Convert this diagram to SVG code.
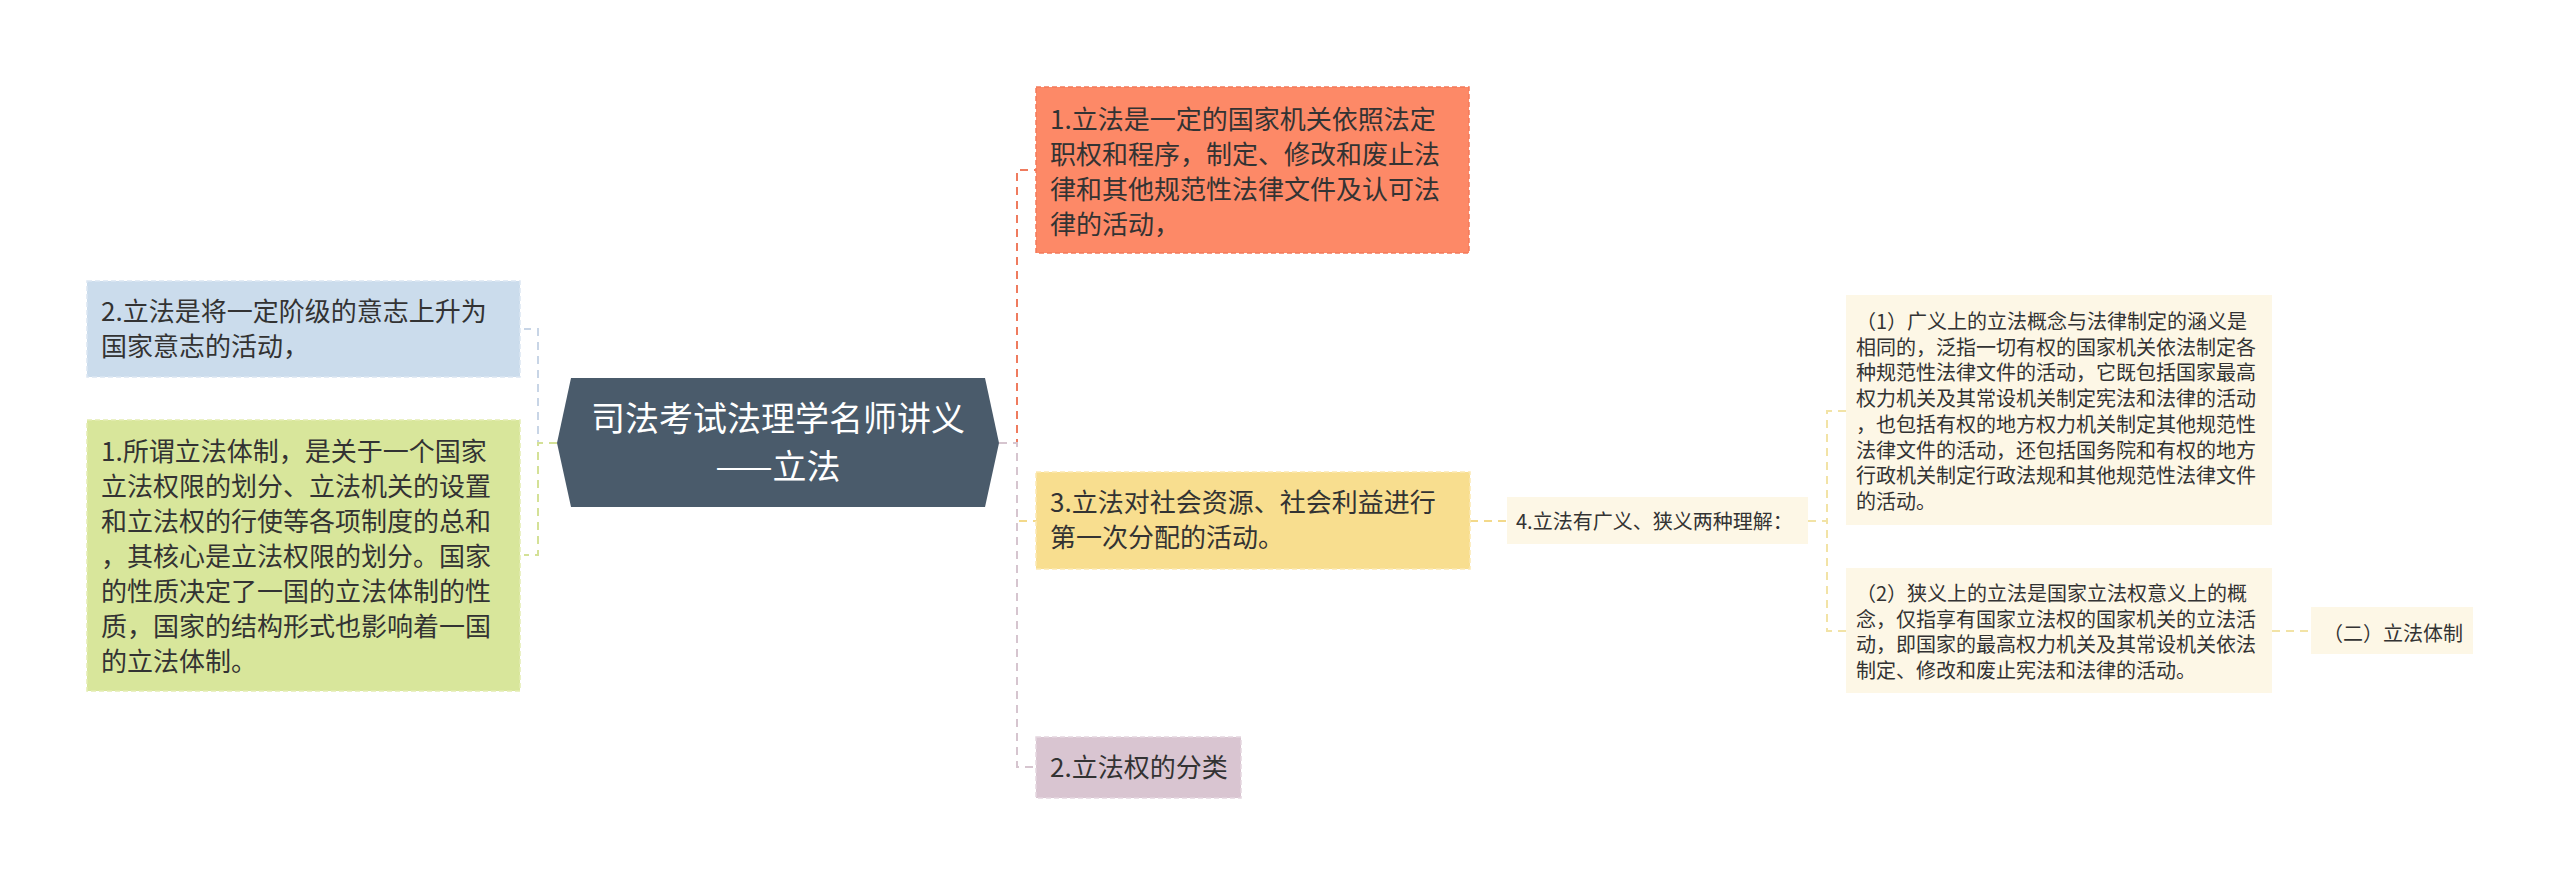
<svg xmlns="http://www.w3.org/2000/svg" width="2560" height="885" viewBox="0 0 2560 885">
<style>
.t{font-family:"Microsoft YaHei","Noto Sans CJK SC","Noto Sans",sans-serif;fill:#333333}
.t26{font-size:26px}
.t20{font-size:20px}
.title{font-family:"Microsoft YaHei","Noto Sans CJK SC","Noto Sans",sans-serif;font-size:34px;fill:#ffffff;text-anchor:middle}
.box{stroke-width:1.5;stroke-dasharray:5 3}
.c{fill:none;stroke-width:2;stroke-dasharray:8 6}
</style>
<rect width="2560" height="885" fill="#ffffff"/>
<g id="connectors">
<path class="c" stroke="#c8d5e6" d="M557,443 H538 V329 H524"/>
<path class="c" stroke="#d4e197" d="M557,443 H538 V555 H524"/>
<path class="c" stroke="#ef7b5e" d="M999,443 H1017 V170 H1036"/>
<path class="c" stroke="#f3d98a" d="M999,443 H1017 V521 H1036"/>
<path class="c" stroke="#d6c5cf" d="M999,443 H1017 V767 H1036"/>
<path class="c" stroke="#f3d98a" d="M1470,521 H1507"/>
<path class="c" stroke="#f2e3a6" d="M1808,521 H1827 V411 H1846"/>
<path class="c" stroke="#f2e3a6" d="M1808,521 H1827 V631 H1846"/>
<path class="c" stroke="#f2e3a6" d="M2272,631 H2311"/>
</g>
<g id="root">
<polygon points="557,443 571,378 985,378 999,443 985,507 571,507" fill="#4a5b6b"/>
<text class="title" x="778" y="431">司法考试法理学名师讲义</text>
<text class="title" x="778" y="479">——立法</text>
</g>
<g id="n-blue">
<rect class="box" x="87" y="281" width="433" height="96" fill="#cbdcec" stroke="#dbe6f2"/>
<text class="t t26" x="101" y="321">2.立法是将一定阶级的意志上升为</text>
<text class="t t26" x="101" y="356">国家意志的活动，</text>
</g>
<g id="n-green">
<rect class="box" x="87" y="420" width="433" height="271" fill="#d8e69b" stroke="#e3edb3"/>
<text class="t t26" x="101" y="461">1.所谓立法体制，是关于一个国家</text>
<text class="t t26" x="101" y="496">立法权限的划分、立法机关的设置</text>
<text class="t t26" x="101" y="531">和立法权的行使等各项制度的总和</text>
<text class="t t26" x="101" y="566">，其核心是立法权限的划分。国家</text>
<text class="t t26" x="101" y="601">的性质决定了一国的立法体制的性</text>
<text class="t t26" x="101" y="636">质，国家的结构形式也影响着一国</text>
<text class="t t26" x="101" y="671">的立法体制。</text>
</g>
<g id="n-orange">
<rect class="box" x="1036" y="87" width="433" height="166" fill="#fd8967" stroke="#f47a5a"/>
<text class="t t26" x="1050" y="129">1.立法是一定的国家机关依照法定</text>
<text class="t t26" x="1050" y="164">职权和程序，制定、修改和废止法</text>
<text class="t t26" x="1050" y="199">律和其他规范性法律文件及认可法</text>
<text class="t t26" x="1050" y="234">律的活动，</text>
</g>
<g id="n-yellow">
<rect class="box" x="1036" y="472" width="434" height="97" fill="#f8de8f" stroke="#fbe9b2"/>
<text class="t t26" x="1050" y="512">3.立法对社会资源、社会利益进行</text>
<text class="t t26" x="1050" y="547">第一次分配的活动。</text>
</g>
<g id="n-purple">
<rect class="box" x="1036" y="737" width="205" height="61" fill="#d9c5d1" stroke="#e5d6df"/>
<text class="t t26" x="1050" y="777">2.立法权的分类</text>
</g>
<g id="n-4">
<rect x="1507" y="497" width="301" height="47" fill="#fdf7e6"/>
<text class="t t20" x="1516" y="529">4.立法有广义、狭义两种理解：</text>
</g>
<g id="n-broad">
<rect x="1846" y="295" width="426" height="230" fill="#fdf7e6"/>
<text class="t t20" x="1856" y="329"> （1）广义上的立法概念与法律制定的涵义是</text>
<text class="t t20" x="1856" y="354.7">相同的，泛指一切有权的国家机关依法制定各</text>
<text class="t t20" x="1856" y="380.4">种规范性法律文件的活动，它既包括国家最高</text>
<text class="t t20" x="1856" y="406.1">权力机关及其常设机关制定宪法和法律的活动</text>
<text class="t t20" x="1856" y="431.8">，也包括有权的地方权力机关制定其他规范性</text>
<text class="t t20" x="1856" y="457.5">法律文件的活动，还包括国务院和有权的地方</text>
<text class="t t20" x="1856" y="483.2">行政机关制定行政法规和其他规范性法律文件</text>
<text class="t t20" x="1856" y="508.9">的活动。</text>
</g>
<g id="n-narrow">
<rect x="1846" y="568" width="426" height="125" fill="#fdf7e6"/>
<text class="t t20" x="1856" y="601"> （2）狭义上的立法是国家立法权意义上的概</text>
<text class="t t20" x="1856" y="626.7">念，仅指享有国家立法权的国家机关的立法活</text>
<text class="t t20" x="1856" y="652.4">动，即国家的最高权力机关及其常设机关依法</text>
<text class="t t20" x="1856" y="678.1">制定、修改和废止宪法和法律的活动。</text>
</g>
<g id="n-system">
<rect x="2311" y="607" width="162" height="47" fill="#fdf7e6"/>
<text class="t t20" x="2323" y="641">（二）立法体制</text>
</g>
</svg>
